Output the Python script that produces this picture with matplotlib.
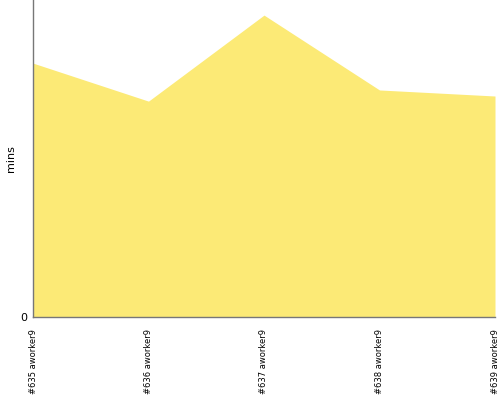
import matplotlib.pyplot as plt
import numpy as np

builds = ['#635 aworker9', '#636 aworker9', '#637 aworker9', '#638 aworker9', '#639 aworker9']
mins = [8.41, 7.15, 10.0, 7.52, 7.32]
y_max = 10.5

fig = plt.figure(figsize=(5, 4), dpi=100)
ax = fig.add_axes([0.066, 0.2075, 0.924, 0.7925])

x = np.arange(len(builds))
ax.fill_between(x, 0, mins, color='#fcea76', linewidth=0)

ax.set_xlim(0, len(builds) - 1)
ax.set_ylim(0, y_max)
ax.set_xticks(x)
ax.set_xticklabels(builds, rotation=90, fontsize=6, va='top')
ax.tick_params(axis='x', length=0, pad=9)
ax.set_yticks([0])
ax.set_yticklabels(['0'], fontsize=8)
ax.tick_params(axis='y', length=0, pad=4)
ax.set_ylabel('mins', fontsize=8, labelpad=3)

for s in ['top', 'right']:
    ax.spines[s].set_visible(False)
for s in ['left', 'bottom']:
    ax.spines[s].set_color('#777777')
    ax.spines[s].set_linewidth(1)

fig.savefig('out.png')
